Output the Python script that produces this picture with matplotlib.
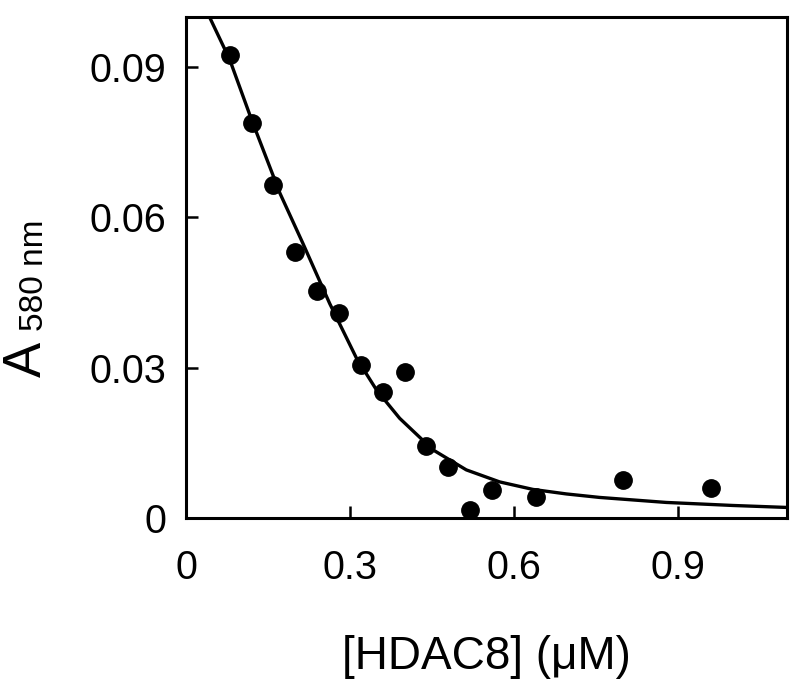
import numpy as np
import matplotlib
matplotlib.use('Agg')
import matplotlib.pyplot as plt

plt.rcParams['font.family'] = ['Liberation Sans', 'DejaVu Sans']

# Measured points
hdac8 = [0.08, 0.12, 0.16, 0.20, 0.24, 0.28, 0.32, 0.36, 0.40, 0.44,
         0.48, 0.52, 0.56, 0.64, 0.80, 0.96]
a580 = [0.0924, 0.0788, 0.0664, 0.0531, 0.0453, 0.0410, 0.0305, 0.0251, 0.0292, 0.0143,
        0.0102, 0.0015, 0.0056, 0.0041, 0.0075, 0.0059]

# Fitted curve
fit_x = [0.043, 0.08, 0.12, 0.172, 0.214, 0.263, 0.312, 0.349, 0.391, 0.452,
         0.513, 0.574, 0.635, 0.696, 0.757, 0.818, 0.879, 0.94, 1.0, 1.1]
fit_y = [0.1, 0.0915, 0.0795, 0.0648, 0.0548, 0.0428, 0.0319, 0.0255, 0.0199, 0.0136,
         0.0096, 0.0072, 0.0057, 0.0048, 0.0041, 0.0036, 0.0031, 0.0028, 0.0025, 0.0021]

x_ticks = [0, 0.3, 0.6, 0.9]
x_tick_labels = ['0', '0.3', '0.6', '0.9']
y_ticks = [0, 0.03, 0.06, 0.09]
y_tick_labels = ['0', '0.03', '0.06', '0.09']

W, H = 800, 691
fig = plt.figure(figsize=(W / 100, H / 100), dpi=100)
ax = fig.add_axes([0.2325, 0.2504, 0.7513, 0.725])

ax.plot(fit_x, fit_y, color='black', lw=2.4, solid_joinstyle='round')
ax.plot(hdac8, a580, 'o', color='black', markersize=12.5, clip_on=False)

ax.set_xlim(0, 1.1)
ax.set_ylim(0, 0.1)
ax.set_xticks(x_ticks)
ax.set_xticklabels(x_tick_labels)
ax.set_yticks(y_ticks)
ax.set_yticklabels(y_tick_labels)

for s in ax.spines.values():
    s.set_linewidth(2.2)
ax.tick_params(direction='in', length=8.5, width=1.8, labelsize=28.5)
ax.tick_params(axis='x', pad=22)
ax.tick_params(axis='y', pad=14)

ax.set_xlabel('[HDAC8] (μM)', fontsize=33, labelpad=35)

# y label: A with subscript "580 nm"
fig.text(41 / W, 1 - 377 / H, 'A', rotation=90, fontsize=38,
         ha='left', va='baseline', rotation_mode='anchor')
fig.text(43 / W, 1 - 331 / H, '580 nm', rotation=90, fontsize=24,
         ha='left', va='baseline', rotation_mode='anchor')

fig.savefig('out.png', dpi=100)
